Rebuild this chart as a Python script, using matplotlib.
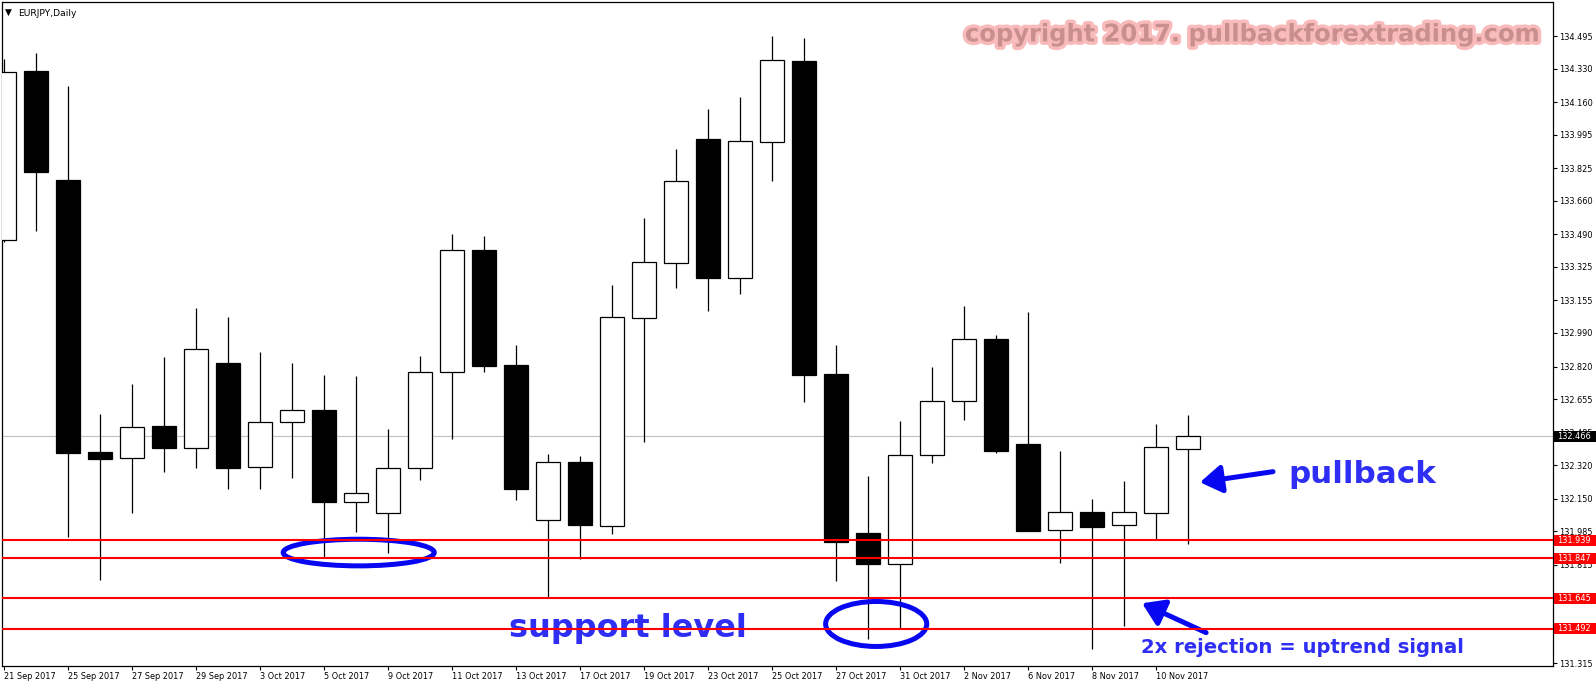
import matplotlib
matplotlib.use('Agg')
import matplotlib.pyplot as plt
import matplotlib.transforms as mtransforms
from matplotlib.patches import Rectangle, Ellipse
from matplotlib import patheffects as pe

# data (EURJPY daily)
dates = ['21 Sep 2017', '22 Sep 2017', '25 Sep 2017', '26 Sep 2017', '27 Sep 2017',
         '28 Sep 2017', '29 Sep 2017', '2 Oct 2017', '3 Oct 2017', '4 Oct 2017',
         '5 Oct 2017', '6 Oct 2017', '9 Oct 2017', '10 Oct 2017', '11 Oct 2017',
         '12 Oct 2017', '13 Oct 2017', '16 Oct 2017', '17 Oct 2017', '18 Oct 2017',
         '19 Oct 2017', '20 Oct 2017', '23 Oct 2017', '24 Oct 2017', '25 Oct 2017',
         '26 Oct 2017', '27 Oct 2017', '30 Oct 2017', '31 Oct 2017', '1 Nov 2017',
         '2 Nov 2017', '3 Nov 2017', '6 Nov 2017', '7 Nov 2017', '8 Nov 2017',
         '9 Nov 2017', '10 Nov 2017', '13 Nov 2017']
opens = [133.463, 134.317, 133.766, 132.387, 132.355, 132.519, 132.405, 132.838,
         132.313, 132.538, 132.599, 132.133, 132.080, 132.305, 132.790, 133.411,
         132.828, 132.040, 132.335, 132.011, 133.068, 133.347, 133.972, 133.271,
         133.960, 134.369, 132.782, 131.975, 131.817, 132.370, 132.644, 132.959,
         132.427, 131.990, 132.081, 132.015, 132.076, 132.400]
highs = [134.381, 134.409, 134.241, 132.580, 132.732, 132.868, 133.116, 133.071,
         132.894, 132.838, 132.776, 132.772, 132.503, 132.872, 133.491, 133.481,
         132.928, 132.377, 132.367, 133.233, 133.574, 133.920, 134.125, 134.187,
         134.496, 134.485, 132.929, 132.265, 132.544, 132.817, 133.127, 132.980,
         133.096, 132.392, 132.148, 132.240, 132.529, 132.574]
lows = [133.449, 133.509, 131.958, 131.740, 132.078, 132.283, 132.307, 132.201,
        132.201, 132.257, 131.852, 131.982, 131.876, 132.247, 132.455, 132.794,
        132.141, 131.650, 131.846, 131.972, 132.435, 133.219, 133.101, 133.187,
        133.758, 132.641, 131.734, 131.440, 131.496, 132.332, 132.550, 132.383,
        131.985, 131.826, 131.387, 131.506, 131.942, 131.919]
closes = [134.315, 133.808, 132.383, 132.353, 132.511, 132.409, 132.908, 132.307,
          132.538, 132.597, 132.131, 132.179, 132.305, 132.790, 133.409, 132.824,
          132.201, 132.335, 132.015, 133.071, 133.349, 133.760, 133.269, 133.962,
          134.373, 132.778, 131.932, 131.817, 132.370, 132.644, 132.958, 132.393,
          131.988, 132.081, 132.008, 132.081, 132.410, 132.466]
price_ticks = [134.495, 134.330, 134.160, 133.995, 133.825, 133.660, 133.490,
               133.325, 133.155, 132.990, 132.820, 132.655, 132.485, 132.320,
               132.150, 131.985, 131.815, 131.645, 131.480, 131.315]
support_levels = [131.939, 131.847, 131.645, 131.492]
bid = 132.466

W, H = 1596, 687
fig = plt.figure(figsize=(W / 100, H / 100), dpi=100)
ax = fig.add_axes([2 / W, 21 / H, 1551 / W, 664.5 / H])
ax.set_xlim(-0.047, 48.42)
ax.set_ylim(131.302, 134.670)

# bid line
ax.axhline(bid, color='#c0c0c0', lw=0.8, zorder=1)

# candles
for i in range(len(opens)):
    o, h, l, c = opens[i], highs[i], lows[i], closes[i]
    ax.vlines(i, l, h, color='black', lw=0.9, zorder=2)
    fc = 'white' if c >= o else 'black'
    ax.add_patch(Rectangle((i - 0.375, min(o, c)), 0.75, abs(c - o),
                           fc=fc, ec='black', lw=0.9, zorder=3))

# annotations
blue = '#0707f2'
tblue = '#2e2ef4'
ax.add_patch(Ellipse((11.1, 131.877), 4.72, 0.135, fill=False, ec=blue, lw=3.6, zorder=5))
ax.add_patch(Ellipse((27.27, 131.515), 3.16, 0.228, fill=False, ec=blue, lw=3.6, zorder=5))
arrow = dict(arrowstyle='-|>,head_length=1.0,head_width=0.65', lw=3.6, color=blue,
             mutation_scale=13, shrinkA=0, shrinkB=0)
ax.annotate('', xy=(37.39, 132.233), xytext=(39.67, 132.287), arrowprops=arrow, zorder=5)
ax.annotate('', xy=(35.58, 131.620), xytext=(37.58, 131.471), arrowprops=arrow, zorder=5)
ax.text(40.14, 132.227, 'pullback', fontsize=22.3, fontweight='bold', color=tblue,
        va='baseline', ha='left', zorder=5)
ax.text(15.8, 131.450, 'support level', fontsize=23, fontweight='bold', color=tblue,
        va='baseline', ha='left', zorder=5)
ax.text(35.55, 131.368, '2x rejection = uptrend signal', fontsize=14.1,
        fontweight='bold', color=tblue, va='baseline', ha='left', zorder=5)

# support lines on top
for lvl in support_levels:
    ax.axhline(lvl, color='#ff0000', lw=1.5, zorder=6)

# axes styling
for s in ax.spines.values():
    s.set_linewidth(0.9)
ax.yaxis.tick_right()
ax.set_yticks(price_ticks)
ax.set_yticklabels(['%.3f' % p for p in price_ticks])
ax.tick_params(axis='y', direction='out', length=3, width=0.8, pad=1.5, labelsize=5.9)
xt = list(range(0, len(dates), 2))
ax.set_xticks(xt)
ax.set_xticklabels([dates[i] for i in xt], ha='left')
ax.tick_params(axis='x', direction='out', length=3, width=0.8, pad=1.5, labelsize=5.9)

# price label boxes on the right axis
blend = mtransforms.blended_transform_factory(ax.transAxes, ax.transData)
bw = 43 / 1551
bh = 11 / 197.3
for lvl, col in [(bid, 'black')] + [(lvl, '#ff0000') for lvl in support_levels]:
    ax.add_patch(Rectangle((1.0008, lvl - bh / 2), bw, bh, transform=blend, fc=col,
                           ec='none', clip_on=False, zorder=8))
    ax.text(1.0 + 4.5 / 1551, lvl, '%.3f' % lvl, transform=blend, color='white',
            fontsize=5.9, va='center', ha='left', clip_on=False, zorder=9)

# title and copyright
fig.text(4.5 / W, 1 - 14.5 / H, '\u25bc', fontsize=6.5, va='baseline')
fig.text(18 / W, 1 - 16 / H, 'EURJPY,Daily', fontsize=6.6, va='baseline')
fig.text(965 / W, 1 - 41.4 / H, 'copyright 2017. pullbackforextrading.com',
         fontsize=17.4, fontweight='bold', color='#c98e8e', va='baseline',
         path_effects=[pe.withStroke(linewidth=5, foreground='#f8baba')])

fig.savefig('out.png', dpi=100)
